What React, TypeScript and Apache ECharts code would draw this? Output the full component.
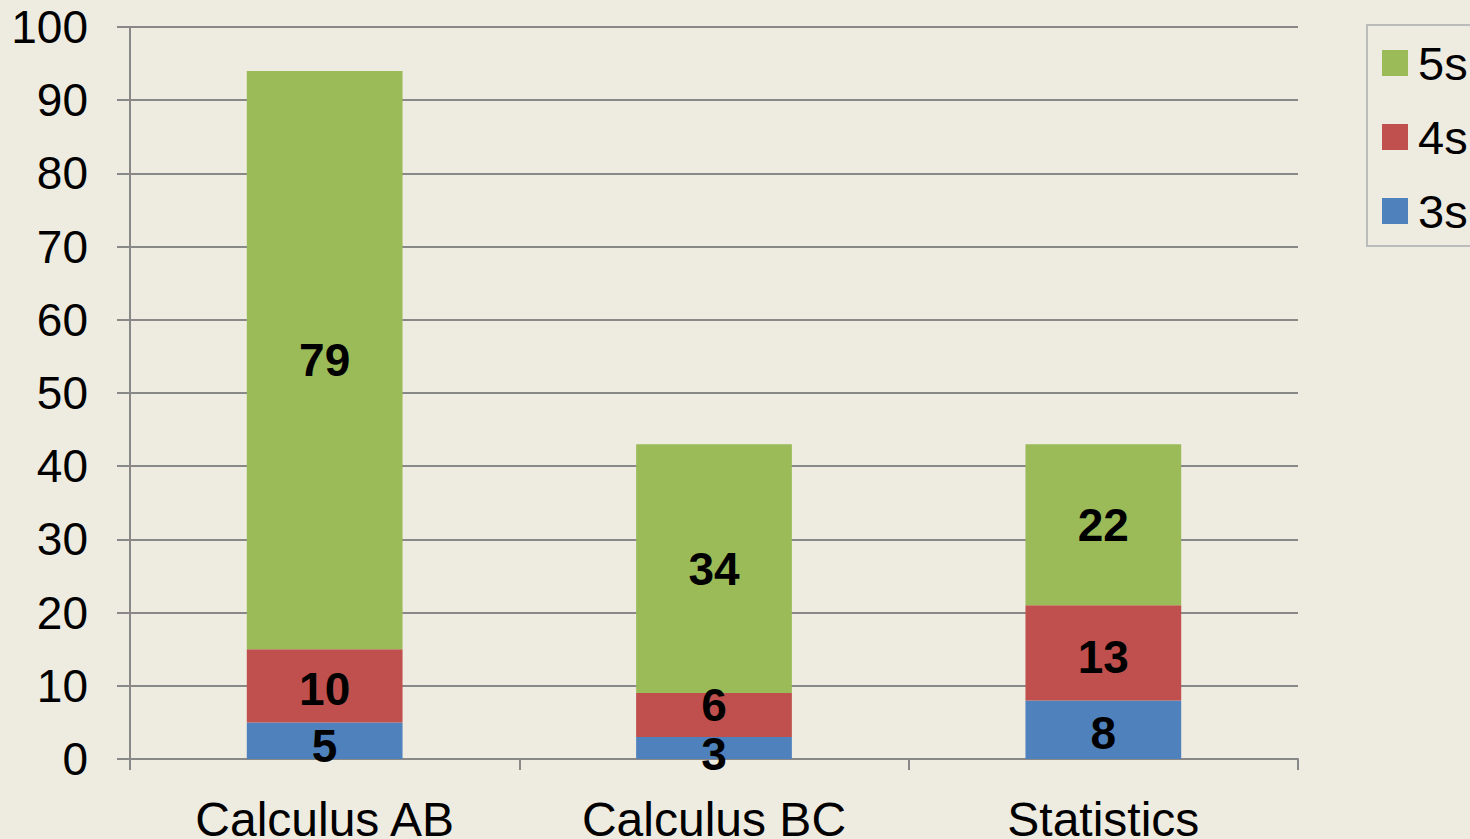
import React, { useEffect, useRef } from "react";
import * as echarts from "echarts";

const categories = ["Calculus AB", "Calculus BC", "Statistics"];
const threes = [5, 3, 8];
const fours = [10, 6, 13];
const fives = [79, 34, 22];
const legendOrder = ["5s", "4s", "3s"];

const FONT = "'Liberation Sans', Arial, sans-serif";

export default function App() {
  const ref = useRef<HTMLDivElement>(null);
  useEffect(() => {
    document.body.style.margin = "0";
    const chart = echarts.init(ref.current!, null, { renderer: "svg" });
    const label = {
      show: true,
      position: "inside",
      color: "#000",
      fontWeight: "bold",
      fontSize: 46,
      lineHeight: 38,
      fontFamily: FONT,
    };
    // label nudges (style only) so that small stacked segments keep their labels apart
    const threeOffsets = [[0, 5], [0, 6], [0, 3]];
    const fourOffsets = [[0, 3], [0, -10], [0, 4]];
    chart.setOption({
      animation: false,
      backgroundColor: "#EEEBE0",
      textStyle: { fontFamily: FONT },
      grid: { left: 130, right: 172, top: 27, bottom: 80, containLabel: false, outerBoundsMode: "none" },
      legend: {
        data: legendOrder,
        orient: "vertical",
        left: 1367,
        top: 25,
        padding: [14, 20, 11, 15],
        itemWidth: 26,
        itemHeight: 26,
        itemGap: 26,
        borderColor: "#BBBBBB",
        borderWidth: 2,
        icon: "rect",
        textStyle: { fontSize: 47, fontFamily: FONT, color: "#000", lineHeight: 48, padding: [0, 0, 0, 5] },
      },
      xAxis: {
        type: "category",
        data: categories,
        axisLine: { lineStyle: { color: "#888888", width: 2 } },
        axisTick: { show: true, length: 11, lineStyle: { color: "#888888", width: 2 } },
        axisLabel: { fontSize: 48, color: "#000", margin: 36, fontFamily: FONT },
      },
      yAxis: {
        type: "value",
        min: 0,
        max: 100,
        interval: 10,
        axisLine: { show: true, lineStyle: { color: "#888888", width: 2 } },
        axisTick: { show: true, length: 13, lineStyle: { color: "#888888", width: 2 } },
        splitLine: { lineStyle: { color: "#888888", width: 2 } },
        axisLabel: { fontSize: 46, color: "#000", margin: 42, fontFamily: FONT },
      },
      series: [
        {
          name: "3s", type: "bar", stack: "t", barWidth: "40%",
          data: threes.map((v, i) => ({ value: v, label: { offset: threeOffsets[i] } })),
          itemStyle: { color: "#4F81BD" }, label,
        },
        {
          name: "4s", type: "bar", stack: "t",
          data: fours.map((v, i) => ({ value: v, label: { offset: fourOffsets[i] } })),
          itemStyle: { color: "#C0504D" }, label,
        },
        { name: "5s", type: "bar", stack: "t", data: fives, itemStyle: { color: "#9BBB59" }, label },
      ],
    });
    return () => chart.dispose();
  }, []);
  return <div ref={ref} style={{ width: 1470, height: 839 }} />;
}
